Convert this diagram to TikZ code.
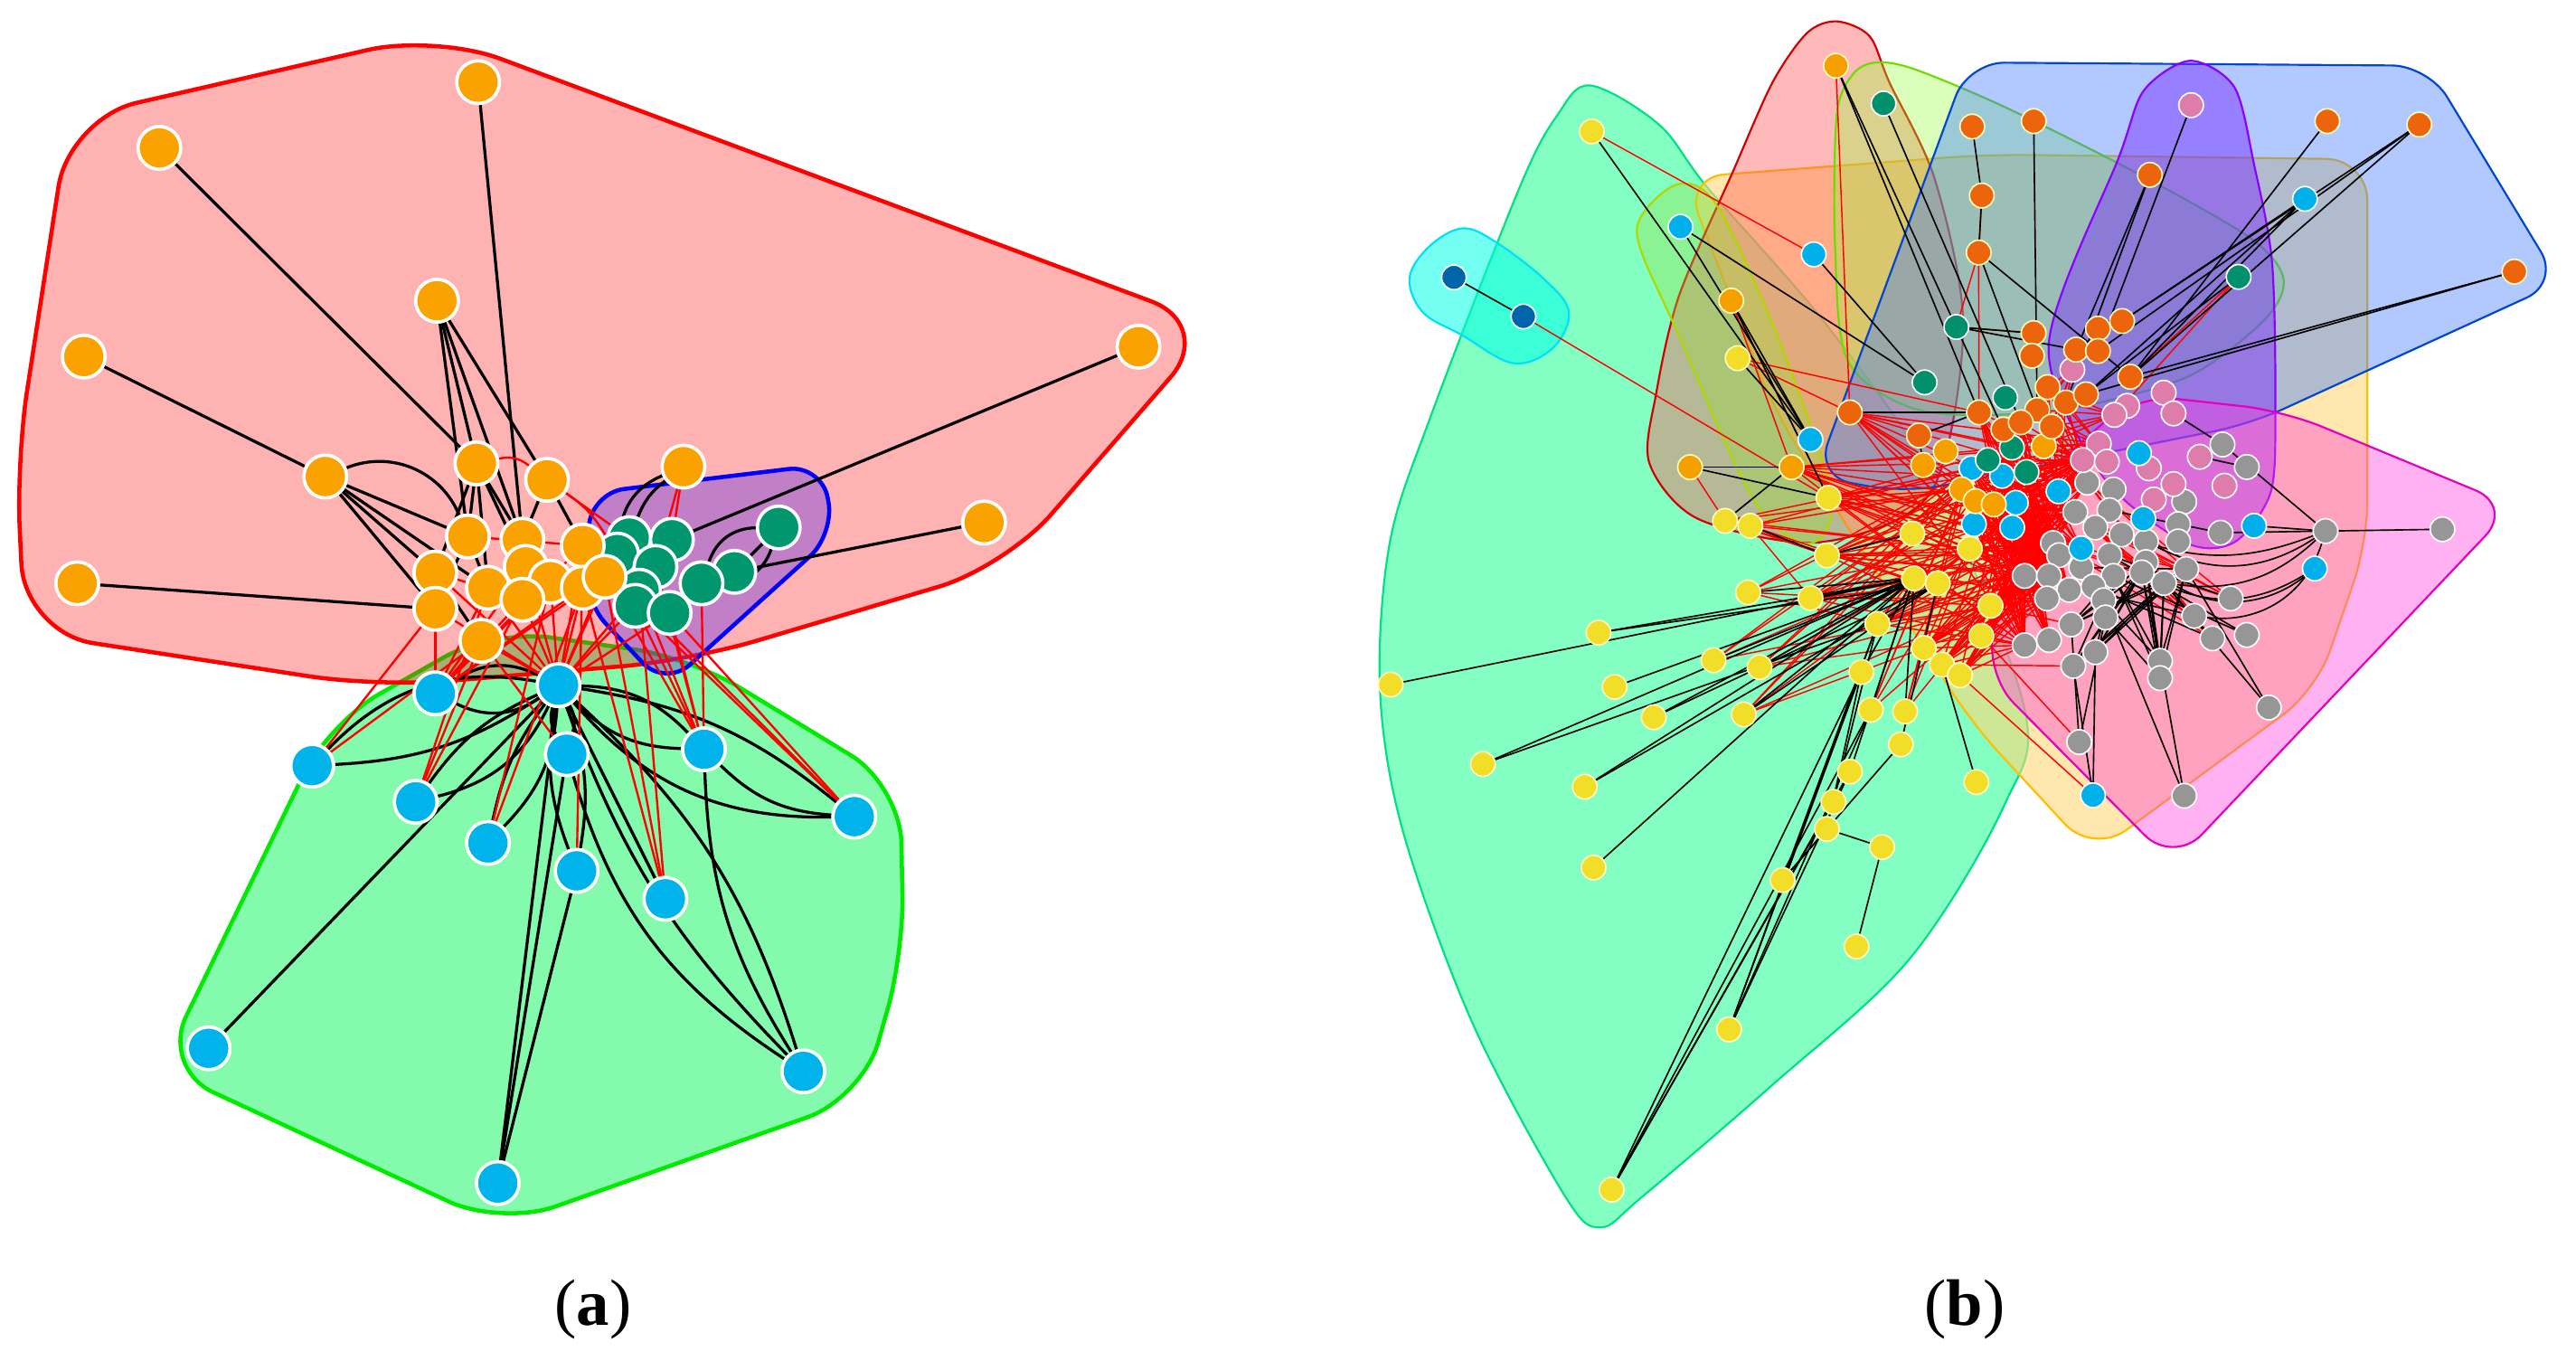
\documentclass[tikz,border=0pt]{standalone}
\usepackage{fontspec}
\setmainfont{Liberation Serif}
\pgfdeclarelayer{hulls}
\pgfdeclarelayer{edges}
\pgfsetlayers{hulls,edges,main}
\definecolor{aorange}{RGB}{250,162,0}
\definecolor{ateal}{RGB}{0,150,110}
\definecolor{ablue}{RGB}{0,180,235}
\definecolor{agreen}{RGB}{132,250,172}
\definecolor{agreenline}{RGB}{0,235,0}
\definecolor{apurple}{RGB}{100,50,230}
\definecolor{cyel}{RGB}{242,222,40}
\definecolor{cdor}{RGB}{236,100,12}
\definecolor{clor}{RGB}{246,160,0}
\definecolor{cteal}{RGB}{0,145,108}
\definecolor{cblue}{RGB}{0,176,235}
\definecolor{cpink}{RGB}{222,125,170}
\definecolor{cgrey}{RGB}{150,150,150}
\definecolor{cdblue}{RGB}{0,100,170}
\definecolor{hmint}{RGB}{132,255,196}
\definecolor{hmintline}{RGB}{0,225,130}
\definecolor{hcyan}{RGB}{0,255,232}
\definecolor{hcyanline}{RGB}{0,225,245}
\definecolor{hgold}{RGB}{255,215,120}
\definecolor{hgoldline}{RGB}{255,190,0}
\definecolor{hpink}{RGB}{255,80,80}
\definecolor{hpinkline}{RGB}{210,0,0}
\definecolor{hlime}{RGB}{150,255,60}
\definecolor{hlimeline}{RGB}{110,220,0}
\definecolor{holive}{RGB}{150,225,60}
\definecolor{holiveline}{RGB}{175,215,0}
\definecolor{hblue}{RGB}{60,120,255}
\definecolor{hblueline}{RGB}{0,70,210}
\definecolor{hpurp}{RGB}{120,40,255}
\definecolor{hpurpline}{RGB}{140,0,255}
\definecolor{hmag}{RGB}{255,60,220}
\definecolor{hmagline}{RGB}{230,0,190}
\tikzset{
  anode/.style={circle,minimum size=26pt,inner sep=0pt,draw=white,line width=2pt},
  aor/.style={anode,fill=aorange},
  ateal/.style={anode,fill=ateal},
  ablu/.style={anode,fill=ablue},
  bnode/.style={circle,minimum size=15pt,inner sep=0pt,draw=white,line width=0.9pt},
  ynode/.style={bnode,fill=cyel,draw=yellow!25!white},
  donode/.style={bnode,fill=cdor,draw=yellow!25!white},
  lonode/.style={bnode,fill=clor,draw=yellow!25!white},
  tnode/.style={bnode,fill=cteal},
  blnode/.style={bnode,fill=cblue},
  pnode/.style={bnode,fill=cpink},
  gnode/.style={bnode,fill=cgrey},
  knode/.style={bnode,fill=cdblue},
  ka/.style={black,line width=1.8pt},
  ra/.style={red,line width=1.3pt},
  kb/.style={black,line width=0.9pt},
  rb/.style={red,line width=0.8pt},
  hullb/.style={line width=1.2pt},
  lab/.style={font=\fontsize{40}{48}\selectfont,inner sep=0pt}
}
\begin{document}
\begin{tikzpicture}[x=1pt,y=-1pt]
\useasboundingbox (0,0) rectangle (1568,828);

% ================= panel (a) hulls =================
\begin{pgfonlayer}{hulls}
\draw[draw=agreenline,fill=agreen,line width=2.5pt,rounded corners=35pt]
  (98,650) -- (200,440) -- (300,383) -- (420,400) -- (548,478) -- (550,580) -- (525,668) -- (305,746) -- cycle;
\draw[draw=red,fill=red,fill opacity=0.3,line width=2.5pt,rounded corners=42pt]
  (10,280) -- (42,72) -- (265,21) -- (740,198) -- (612,345) -- (420,402) -- (230,418) -- (15,385) -- cycle;
\draw[draw=blue,fill=apurple,fill opacity=0.4,line width=2.5pt,rounded corners=20pt]
  (360,300) -- (500,283) -- (508,325) -- (405,418) -- (355,365) -- cycle;
\end{pgfonlayer}

% ================= panel (a) nodes =================
\foreach \n/\x/\y in {t1/383/327.5, t2/409/328.5, t3/474/321, t4/375.7/337.5, t5/399/345, t6/447/348, t7/427/355, t8/389/359.5, t9/386.7/368.7, t10/407.6/373}
  \node[ateal] (\n) at (\x,\y) {};
\foreach \n/\x/\y in {oa1/291/50, oa2/97/90, oa3/266/183, oa4/51/217, oa5/693/211, oa6/198/290, oa7/290/282, oa8/416/284, oa9/599/318, oa10/47/355, oa11/333/292,
  c1/284.8/326.5, c2/318/328.5, c3/354.7/332, c4/265/348.5, c6/320/345, c5/297/357.7, c7/335/354, c8/318/365, c9/354.7/357.7, c10/368/351, c11/265/370.5, c12/293/390}
  \node[aor] (\n) at (\x,\y) {};
\foreach \n/\x/\y in {b1/340/417, b2/265/422, b3/345/459, b4/428.5/456, b5/190/466, b6/253/488, b7/297/513, b8/520/497, b9/351/530, b10/405/547, b11/127/638, b12/489/652, b13/303/720}
  \node[ablu] (\n) at (\x,\y) {};

% ================= panel (a) edges =================
\begin{pgfonlayer}{edges}
\foreach \s/\t in {oa1/c2, oa2/oa7, oa3/oa7, oa3/c2, oa3/oa11, oa3/c1, oa4/oa6, oa5/t2, oa9/t6, oa10/c11,
  oa6/c1, oa6/c4, oa6/c11, oa6/c5, oa7/c1, oa7/c2, oa7/c6, oa7/c4, oa11/c2, oa11/c3, t3/t6, c1/c5, c4/c12, c1/c11, c2/c8, oa7/c5,
  b1/b11, b1/b13, b1/b10, b3/b13, b9/b13}
  \draw[ka] (\s) -- (\t);
\foreach \s/\t/\b in {oa6/c1/45, oa8/t1/-15, oa8/t4/-30, t3/t7/35, t3/t7/-35,
  b1/b12/15, b1/b12/-12, b4/b12/-15, b1/b3/22, b1/b3/-22, b1/b9/15, b1/b9/-15, b1/b7/20, b1/b7/-12,
  b1/b6/25, b1/b6/-15, b1/b5/15, b1/b5/-28, b1/b2/30, b1/b2/-30, b1/b4/22, b1/b4/-22, b1/b8/15, b1/b8/-25, b4/b8/-20, b3/b12/-20}
  \draw[ka] (\s) to[bend left=\b] (\t);
\foreach \s/\t in {oa11/t1, oa8/t2, oa8/t5, c1/c3, c4/c8, c11/b5, c12/b5, c8/b6, c5/b6, c7/b7, c9/b7, c9/b10, c10/b10, t8/b10, c3/b9,
  c10/b4, t8/b4, t9/b4, t10/b4, t7/b4, t5/b4, t10/b8, t9/b8, c3/b8, c12/b3, t8/b1, t9/b1, t4/b1, c10/b1, t10/b1, c12/b6}
  \draw[ra] (\s) -- (\t);
\foreach \s in {c5,c6,c7,c8,c9,c11,c12,c3,c10,c4}
  {\draw[ra] (\s) -- (b1); \draw[ra] (\s) -- (b2);}
\draw[ra] (oa7) to[bend left=25] (oa11);
\draw[ra] (oa11) to[bend left=12] (t4);
\end{pgfonlayer}

% ================= panel (b) hulls =================
\begin{pgfonlayer}{hulls}
\draw[draw=hmintline,fill=hmint,hullb] plot[smooth cycle,tension=0.55] coordinates {(968,52) (1010,76) (1040,115) (1112,198) (1175,290) (1232,430) (1220,490) (1162,584) (1078,661) (1000,728) (974,747) (952,727) (896,622) (854,506) (840,420) (846,330) (871,253) (925,114) (948,70)};
\draw[draw=hcyanline,fill=hcyan,fill opacity=0.55,hullb] plot[smooth cycle,tension=0.6] coordinates {(858,169) (870,150) (890,139) (910,147) (940,170) (955,190) (945,212) (921,221) (890,204) (866,190)};
\draw[draw=hgoldline,fill=hgold,fill opacity=0.6,hullb,rounded corners=25pt]
  (1025,108) -- (1210,94) -- (1441,97) -- (1441,330) -- (1410,420) -- (1274,520) -- (1200,440) -- (1080,250) -- cycle;
\draw[draw=hpinkline,fill=hpink,fill opacity=0.4,hullb] plot[smooth cycle,tension=0.5] coordinates {(1079,50) (1100,20) (1118,13) (1138,22) (1150,50) (1178,110) (1195,200) (1175,300) (1108,330) (1034,316) (1004,282) (1008,240) (1022,180) (1055,104)};
\draw[draw=holiveline,fill=holive,fill opacity=0.35,hullb] plot[smooth cycle,tension=0.55] coordinates {(1000,130) (1022,112) (1045,125) (1080,200) (1112,290) (1112,322) (1095,330) (1065,300) (1020,200) (998,150)};
\draw[draw=hlimeline,fill=hlime,fill opacity=0.35,hullb] plot[smooth cycle,tension=0.5] coordinates {(1118,70) (1128,45) (1142,38) (1165,42) (1220,65) (1300,105) (1370,145) (1390,170) (1378,195) (1330,230) (1250,250) (1170,250) (1125,220) (1117,150)};
\draw[draw=hblueline,fill=hblue,fill opacity=0.4,hullb,rounded corners=22pt]
  (1198,38) -- (1478,40) -- (1558,172) -- (1370,258) -- (1160,300) -- (1105,290) -- cycle;
\draw[draw=hpurpline,fill=hpurp,fill opacity=0.45,hullb] plot[smooth cycle,tension=0.5] coordinates {(1290,95) (1305,55) (1333,37) (1360,53) (1372,100) (1383,160) (1385,250) (1382,300) (1360,330) (1330,330) (1280,290) (1247,210)};
\draw[draw=hmagline,fill=hmag,fill opacity=0.4,hullb,rounded corners=25pt]
  (1300,240) -- (1390,250) -- (1530,308) -- (1323,526) -- (1208,410) -- (1232,300) -- cycle;
\end{pgfonlayer}

% ================= panel (b) nodes =================
\foreach \n/\x/\y in {G1/1352.8/270.5, G2/1367.6/284.2, G3/1415.5/323.2, G4/1486.7/322.1, G5/1270.5/293.7, G6/1286.5/297.9, G7/1329.5/305.3, G8/1263.2/311.6, G9/1284/310.5, G10/1275.4/321,
  G11/1291.4/325.3, G12/1306.2/329.5, G13/1325.8/319, G14/1351.6/324.2, G15/1325.8/329.5, G16/1249.6/330.5, G17/1253.3/337.9, G18/1266.8/345.3, G19/1284/337.9, G20/1286.5/350.5,
  G21/1306.2/342.1, G22/1317.2/354.8, G23/1232.4/350.5, G24/1247.2/350.5, G25/1259.5/359, G26/1274.2/356.9, G27/1330.7/346.3, G28/1246/364.2, G29/1280.4/365.3, G30/1303.7/348.4,
  G31/1281.6/375.8, G32/1357.8/364.2, G33/1335.6/374.8, G34/1232.4/392.7, G35/1247.2/389.5, G36/1260.7/380, G37/1275.4/396.9, G38/1262/405.3, G39/1314.8/402.2, G40/1314.8/412.7,
  G41/1346.7/388.5, G42/1367.6/386.4, G43/1381/430.6, G44/1265.6/451.6, G45/1329.5/484.3}
  \node[gnode] (\n) at (\x,\y) {};
\foreach \n/\x/\y in {P1/1333.7/64, P2/1261.4/225, P3/1317/239, P4/1294.8/247, P5/1287/252.5, P6/1323/251.6, P7/1277.5/270, P8/1267.8/280, P9/1282.4/281, P10/1308/285, P11/1339/278, P12/1354/295.6, P13/1323/294.6, P14/1311/304}
  \node[pnode] (\n) at (\x,\y) {};
\foreach \n/\x/\y in {B1/1022.9/138, B2/1104/154.8, B3/1403/121, B4/1102/267.5, B5/1200/285, B6/1218.6/289.6, B7/1302/275.8, B8/1253/299, B9/1227/306, B10/1201.5/319, B11/1224.8/321, B12/1304.6/315.7, B13/1372/320, B14/1409/346, B15/1266.8/333.7, B16/1274/484}
  \node[blnode] (\n) at (\x,\y) {};
\foreach \n/\x/\y in {T1/1146.5/63, T2/1362.6/168.5, T3/1190.8/199, T4/1171.5/232.7, T5/1220.6/242, T6/1224.6/272.4, T7/1210/280, T8/1233.5/287.3}
  \node[tnode] (\n) at (\x,\y) {};
\foreach \n/\x/\y in {L1/1117.5/40, L2/1053.8/183, L3/1028.7/284.3, L4/1090.5/284.3, L5/1170.6/283, L6/1184.3/274.6, L7/1244/271.5, L8/1194/297.8, L9/1202.6/305, L10/1213.6/307}
  \node[lonode] (\n) at (\x,\y) {};
\foreach \n/\x/\y in {D1/1200.5/77, D2/1237.9/73.7, D3/1416.6/73.7, D4/1472.6/75.8, D5/1308.6/106.4, D6/1206.3/119, D7/1204.4/153.7, D8/1530.5/165.3, D9/1237.8/202.7, D10/1236.8/216.5,
  D11/1277/200, D12/1291.7/195.4, D13/1263.7/212.8, D14/1277/213.6, D15/1296.7/229.3, D16/1246.4/235.6, D17/1257.5/245, D18/1269.7/240, D19/1204.6/251, D20/1240/249.5,
  D21/1219.4/261.4, D22/1248.8/259.6, D23/1230/257, D24/1126/251, D25/1168/265}
  \node[donode] (\n) at (\x,\y) {};
\foreach \n/\x/\y in {Y1/968.9/80, Y2/1057.7/218, Y3/1050/317, Y4/1065.4/320, Y5/1113/303, Y6/1112/338, Y7/1064/360.5, Y8/1102/364, Y9/1165/352, Y10/1179.5/355,
  Y11/1199/334, Y12/1211.6/368.7, Y13/1142.8/379.7, Y14/1206/387, Y15/973/385, Y16/1171/394.4, Y17/1182/404.5, Y18/1193/411, Y19/1043/401.8, Y20/1071/406,
  Y21/1133/409, Y22/982.8/418, Y23/846.5/416.6, Y24/1006.6/436.5, Y25/1061.4/434.8, Y26/1138.7/432, Y27/1159.6/433, Y28/1157/453, Y29/902.6/465, Y30/964.6/478.8,
  Y31/1203/476, Y32/1126/469.6, Y33/1116/488, Y34/1112/504.5, Y35/1145.6/515.5, Y36/970/528, Y37/1085/535.6, Y38/1130/576, Y39/1052.5/626.5, Y40/981/724, Y41/1164/324.7}
  \node[ynode] (\n) at (\x,\y) {};
\node[knode] (K1) at (885,168.8) {};
\node[knode] (K2) at (927.3,192.6) {};

% ================= panel (b) edges =================
\begin{pgfonlayer}{edges}
% red mass
\foreach \s in {Y5,Y6,Y8,Y11,Y12,Y13,Y14,Y16,Y17,Y18,L4,L9,B10,D24}
  \foreach \t in {G5,G8,G16,G17,G23,G24,G28,G34,P7,P8,B15,T6}
    \draw[rb] (\s) -- (\t);
\foreach \s in {B5,B6,B9,B11,L8,L10,T7,T8,D19,D21,D23}
  \foreach \t in {G16,G17,G23,G24,G28,G34,G35,G8,P8,B15,G25}
    \draw[rb] (\s) -- (\t);
\foreach \s in {G5,G8,G10,G16}
  \foreach \t in {G22,G27,G32,G33,G41}
    \draw[rb] (\s) -- (\t);
\foreach \s in {Y7,Y19,Y20,Y25,Y26,Y27,Y3,Y4}
  \foreach \t in {Y11,L8,B5,Y12}
    \draw[rb] (\s) -- (\t);
\foreach \s in {D16,D17,D20,D22,L7,T6}
  \foreach \t in {P2,P5,P7,P8,G5,B8}
    \draw[rb] (\s) -- (\t);
\foreach \s/\t in {Y1/B2, K2/Y5, L2/L4, Y2/D24, T2/P5, T2/D15, D7/D19, L1/D24, D6/D7, Y3/Y6, Y4/Y8, Y7/Y13, Y20/Y14, Y25/Y16,
  L3/Y3, Y18/B16, Y14/G44, Y17/G38, Y12/G36, T3/D9, L2/Y5, Y2/D19, D7/T3}
  \draw[rb] (\s) -- (\t);
% black edges
\foreach \s/\t in {K1/K2, Y1/B4, B1/B4, B1/T4, B2/T4, L1/D19, L1/D21, T1/D23, D1/D6, D2/D20, D6/D7, D7/D20, D7/D15, P1/D14, D5/D13, D5/D17,
  D3/D15, D4/D15, D4/D12, D4/D14, B3/D15, B3/D18, B3/D12, D8/D15, D8/D18, L2/B4, L2/Y5, Y2/B4, L3/L4, D24/D19, T3/D9, T3/D13, T2/D18,
  Y40/Y33, Y40/Y32, Y40/Y21, Y39/Y32, Y39/Y26, Y39/Y13, Y38/Y35, Y37/Y34, Y37/Y28, Y37/Y13, Y36/Y9, Y35/Y34, Y34/Y21, Y33/Y13, Y32/Y9,
  Y30/Y9, Y30/Y10, Y29/Y9, Y29/Y13, Y23/Y9, Y15/Y9, Y15/Y10, Y22/Y9, Y24/Y9, Y24/Y10, Y25/Y9, Y25/Y10, Y19/Y9, Y20/Y9, Y7/Y9, Y8/Y9,
  Y26/Y9, Y27/Y9, Y28/Y10, Y21/Y9, Y13/Y10, Y31/Y17, Y3/L4, Y4/Y6, L3/Y5, Y6/Y41, Y40/Y26, Y39/Y21,
  G4/G3, G3/G1, G3/G14, B13/G3, G43/G27, G45/G39, B16/G37, B16/G38, G44/G36, G44/G31, G42/G20, G41/G26, G40/G31, G39/G29,
  G2/P11, G1/P6, G33/G23, G32/G19, G14/G9, G27/G18, P3/P6, G43/G22, G45/G29, G42/G19, G41/G21, D25/D19, L5/D25}
  \draw[kb] (\s) -- (\t);
\foreach \s in {G20,G21,G22,G27,G30}
  \foreach \t in {G36,G37,G39,G40,G38}
    \draw[kb] (\s) -- (\t);
\foreach \s/\t/\b in {G3/G12/30, G3/G22/25, B14/G21/40, B14/G30/30, G3/G33/40, G3/G11/20}
  \draw[kb] (\s) to[bend left=\b] (\t);
\end{pgfonlayer}

% ================= labels =================
\node[lab] (la) at (361,797) {(\textbf{a})};
\node[lab] (lb) at (1196,797) {(\textbf{b})};
\end{tikzpicture}
\end{document}
